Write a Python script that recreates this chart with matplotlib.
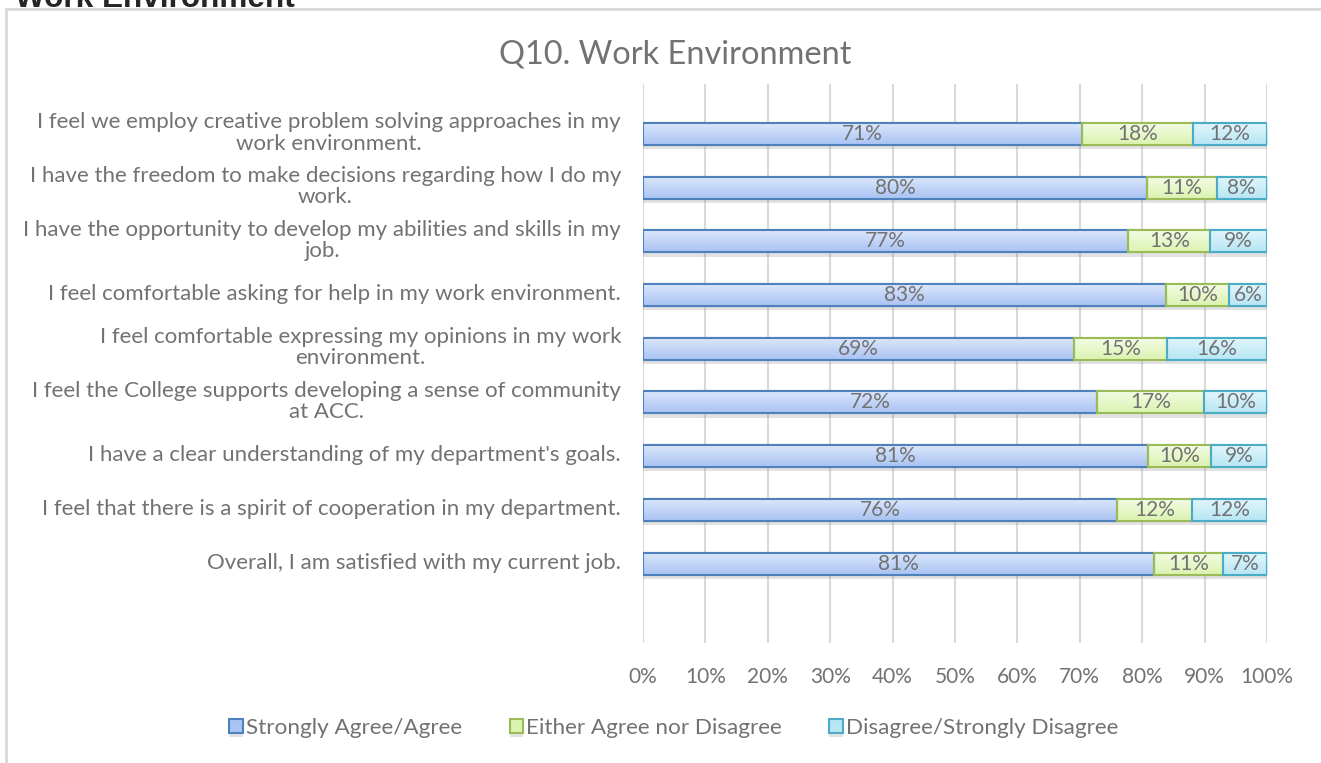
import matplotlib.pyplot as plt
import matplotlib.patheffects as pe
import numpy as np
from matplotlib.colors import LinearSegmentedColormap

# Survey questions, top to bottom
questions = [
    "I feel we employ creative problem solving approaches in my\nwork environment.",
    "I have the freedom to make decisions regarding how I do my\nwork.",
    "I have the opportunity to develop my abilities and skills in my\njob.",
    "I feel comfortable asking for help in my work environment.",
    "I feel comfortable expressing my opinions in my work\nenvironment.",
    "I feel the College supports developing a sense of community\nat ACC.",
    "I have a clear understanding of my department's goals.",
    "I feel that there is a spirit of cooperation in my department.",
    "Overall, I am satisfied with my current job.",
]
series_names = ["Strongly Agree/Agree", "Either Agree nor Disagree", "Disagree/Strongly Disagree"]
agree = [71, 80, 77, 83, 69, 72, 81, 76, 81]
neutral = [18, 11, 13, 10, 15, 17, 10, 12, 11]
disagree = [12, 8, 9, 6, 16, 10, 9, 12, 7]
x_ticks = [0, 10, 20, 30, 40, 50, 60, 70, 80, 90, 100]

# fill gradient (top, bottom) and edge colour per series
styles = [
    (("#dde8fc", "#a9c3f3"), "#4f81bd"),
    (("#f4fce6", "#dbf3b0"), "#9bbb59"),
    (("#e2f6fc", "#b7e6f5"), "#4bacc6"),
]
TXT = "#727272"
FONT = "Lato"
W, H = 1321, 763

fig = plt.figure(figsize=(W / 100, H / 100), dpi=100)
ax = fig.add_axes([643 / W, 1 - 643 / H, 624 / W, 559 / H])

totals = np.array(agree) + np.array(neutral) + np.array(disagree)
ypos = np.arange(len(questions))
left = np.zeros(len(questions))
for vals, name, ((c_top, c_bot), edge) in zip([agree, neutral, disagree], series_names, styles):
    vals = np.array(vals, dtype=float)
    frac = vals / totals * 100
    bars = ax.barh(ypos, frac, left=left, height=0.41, color=c_bot, edgecolor=edge,
                   linewidth=1.5, label=name, zorder=3)
    cmap = LinearSegmentedColormap.from_list("g", [c_top, c_bot])
    for b, v, lft, w in zip(bars, vals, left, frac):
        b.set_path_effects([pe.SimplePatchShadow(offset=(0, -3), shadow_rgbFace="#8c8c8c", alpha=0.25),
                            pe.Normal()])
        x0, y0 = b.get_x(), b.get_y()
        im = ax.imshow(np.linspace(0, 1, 32).reshape(-1, 1), cmap=cmap, aspect="auto",
                       extent=(x0, x0 + b.get_width(), y0 + b.get_height(), y0),
                       origin="upper", zorder=3.5)
        im.set_clip_path(b)
        ax.text(lft + w / 2, b.get_y() + b.get_height() / 2, f"{int(v)}%", ha="center",
                va="center", color=TXT, fontsize=15, family=FONT, zorder=5)
        # redraw the edge on top of the gradient
        ax.add_patch(plt.Rectangle((x0, y0), b.get_width(), b.get_height(), fill=False,
                                   edgecolor=edge, linewidth=1.5, zorder=4))
    left += frac

ax.set_xlim(0, 100)
ax.set_ylim(len(questions) - 1 + 1.48, -0.93)
ax.set_xticks(x_ticks)
ax.set_xticklabels([f"{t}%" for t in x_ticks], color=TXT, fontsize=15, family=FONT)
ax.tick_params(axis="x", length=0, pad=17)
ax.set_yticks([])
ax.grid(axis="x", color="#d9d9d9", linewidth=1.5, zorder=0)
ax.set_axisbelow(True)
for s in ax.spines.values():
    s.set_visible(False)

for y, q in zip(ypos, questions):
    ax.annotate(q, xy=(0, y), xytext=(-22, 1), textcoords="offset pixels", ha="right",
                va="center", multialignment="center", color=TXT, fontsize=16.0,
                family=FONT, linespacing=1.08, annotation_clip=False)

fig.text(675 / W, 1 - 54 / H, "Q10. Work Environment", ha="center", va="center",
         color=TXT, fontsize=23.4, family=FONT)

# frame and clipped header of the page
fig.add_artist(plt.Line2D([6 / W, 1], [1 - 9 / H, 1 - 9 / H], color="#d9d9d9", linewidth=2))
fig.add_artist(plt.Line2D([6 / W, 6 / W], [0, 1 - 9 / H], color="#d9d9d9", linewidth=2))
fig.text(15 / W, 1 - 7 / H, "Work Environment", ha="left", va="baseline", color="#262626",
         fontsize=22.7, fontweight="bold", family="Liberation Sans")

leg = ax.legend(loc="center", bbox_to_anchor=(674 / W, 1 - 728 / H),
                bbox_transform=fig.transFigure, ncol=3, frameon=False, handlelength=0.6,
                handleheight=0.6, handletextpad=0.15, columnspacing=2.1,
                prop={"family": FONT, "size": 16.2})
for t in leg.get_texts():
    t.set_color(TXT)

fig.savefig("out.png", dpi=100)
